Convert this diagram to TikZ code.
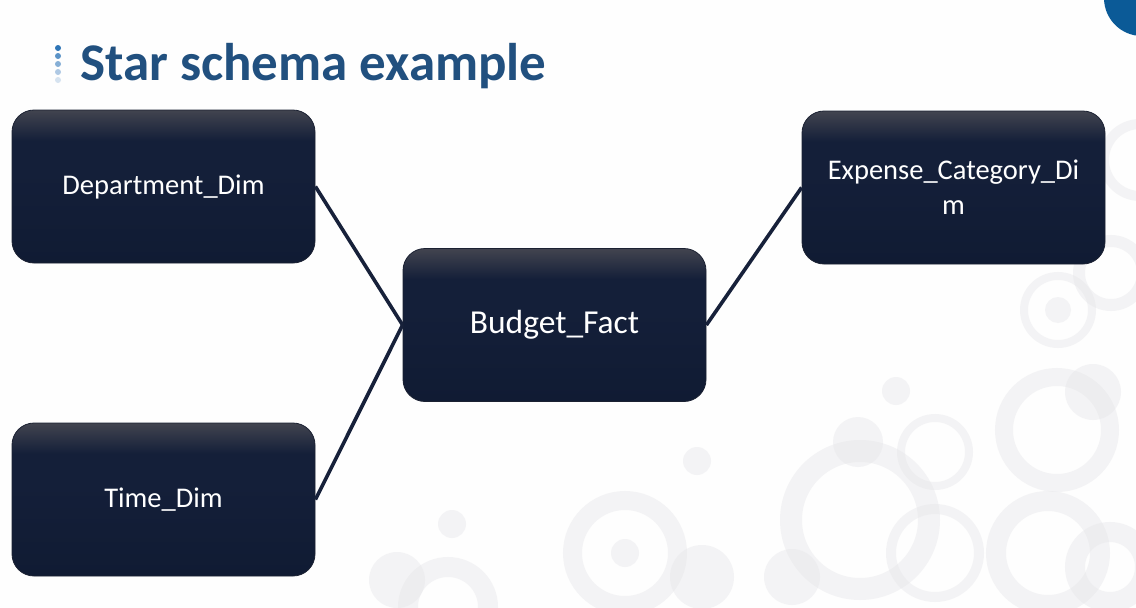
\documentclass[tikz,border=0pt]{standalone}
\usepackage{fontspec}
\setmainfont{Carlito}
\definecolor{titleblue}{HTML}{21507F}
\definecolor{cornerblue}{HTML}{0B5A97}
\definecolor{boxtop}{HTML}{42444F}
\definecolor{boxmid}{HTML}{141F39}
\definecolor{boxbot}{HTML}{101B33}
\definecolor{boxline}{HTML}{1B2132}
\definecolor{linkcol}{HTML}{17213A}
\definecolor{ringcol}{HTML}{E4E4E8}
\definecolor{dotA}{HTML}{2E75B6}
\definecolor{dotB}{HTML}{5B93C7}
\definecolor{dotC}{HTML}{86AFD6}
\definecolor{dotD}{HTML}{AFC9E4}
\definecolor{dotE}{HTML}{D6E3F0}
% vertical shading: path box spans 25bp (bottom) to 75bp (top)
\pgfdeclareverticalshading{boxshade}{100bp}{%
  color(0bp)=(boxbot); color(25bp)=(boxbot); color(55bp)=(boxmid);
  color(65bp)=(boxmid); color(75bp)=(boxtop); color(100bp)=(boxtop)}
\tikzset{
  entity/.style={draw=boxline, line width=0.8pt, shading=boxshade,
    rounded corners=22pt, minimum width=303pt, minimum height=153pt,
    inner sep=0pt, text=white, align=center},
  dimfont/.style={font=\fontsize{28.5}{35}\selectfont},
  factfont/.style={font=\fontsize{33.5}{40}\selectfont},
  link/.style={draw=linkcol, line width=3.6pt},
  ring/.style={draw=ringcol, draw opacity=0.4},
  blob/.style={fill=ringcol, fill opacity=0.4}
}
\begin{document}
\begin{tikzpicture}[x=1pt, y=-1pt]
\useasboundingbox (0,0) rectangle (1136,608);
\fill[white!99!gray] (0,0) rectangle (1136,608);

% decorative rings and discs
\begin{scope}
  \clip (0,0) rectangle (1136,608);
  \foreach \cx/\cy/\r/\w in {1058/310/34/8, 1057/430/53/18, 935/452/34/8,
      860/520/69/22, 935/553/44/10, 1048/553/52/20, 1110/567/35/20,
      625/553/52.5/19, 448/607/40/20, 1111/273/32/12, 1140/160/36/10}
    \draw[ring, line width=\w pt] (\cx,\cy) circle[radius=\r];
  \foreach \cx/\cy/\r in {1058/310/13, 625/553/14, 896/391/14, 858/442/25,
      1093/392/28, 792/577/28, 697/461/14, 452/524/14, 397/580/28, 702/577/32}
    \fill[blob] (\cx,\cy) circle[radius=\r];
\end{scope}

% corner disc
\fill[cornerblue] (1142,-2) circle[radius=38];

% title bullet dots
\fill[dotA] (58,48) circle[radius=3];
\fill[dotB] (58,56) circle[radius=3];
\fill[dotC] (58,64) circle[radius=3];
\fill[dotD] (58,72) circle[radius=3];
\fill[dotE] (58,80) circle[radius=3];

\node[anchor=base west, inner sep=0pt, text=titleblue,
      font=\fontsize{53}{60}\selectfont\bfseries] (title) at (80,80) {Star schema example};

% entities
\node[entity, dimfont] (dep) at (163.5,186.5) {Department\_Dim};
\node[entity, dimfont] (time) at (163.5,499.5) {Time\_Dim};
\node[entity, factfont] (fact) at (554.5,325) {Budget\_Fact};
\node[entity, dimfont] (exp) at (953.5,187.5) {Expense\_Category\_Di\\m};

% star connectors
\draw[link] (dep.east) -- (fact.west);
\draw[link] (time.east) -- (fact.west);
\draw[link] (fact.east) -- (exp.west);
\end{tikzpicture}
\end{document}
